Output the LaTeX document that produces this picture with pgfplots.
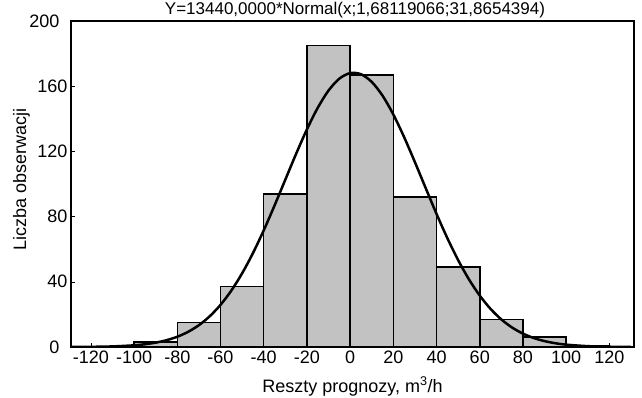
\documentclass[border=0pt]{standalone}
\usepackage{fontspec}
\setmainfont{Liberation Sans}
\usepackage{pgfplots}
\pgfplotsset{compat=1.18}
\definecolor{barfill}{gray}{0.76}
\begin{document}
\begin{tikzpicture}
\useasboundingbox (-71pt,-50pt) rectangle (571pt,347pt);
\begin{axis}[
  at={(0pt,0pt)}, anchor=south west,
  scale only axis, width=563pt, height=326pt,
  xmin=-129.2, xmax=131.4, ymin=0, ymax=200,
  xtick={-120,-100,...,120},
  ytick={40,80,120,160},
  extra y ticks={0,200},
  extra y tick style={yticklabel style={xshift=-8pt}},
  xtick pos=bottom, ytick pos=left,
  tick align=inside, major tick length=4pt,
  tick style={black, line width=0.6pt},
  axis line style={line width=1.9pt},
  /pgf/number format/assume math mode=true,
  tick label style={font=\fontsize{18}{20}\selectfont},
  clip=true,
]
\addplot[ybar interval, fill=barfill, draw=black, line width=1.5pt] coordinates {
  (-100,3) (-80,15) (-60,37) (-40,94) (-20,185) (0,167) (20,92) (40,49) (60,17) (80,6) (100,1) (120,1)
};
\addplot[black, line width=2.5pt, smooth] coordinates {
  (-130,0.033) (-120,0.115) (-110,0.362) (-100,1.035) (-95,1.686) (-90,2.68) (-85,4.16)
  (-80,6.30) (-75,9.30) (-70,13.40) (-65,18.84) (-60,25.84) (-55,34.59) (-50,45.17)
  (-45,57.55) (-40,71.53) (-35,86.76) (-30,102.65) (-25,118.52) (-20,133.50) (-15,146.73)
  (-10,157.34) (-5,164.61) (0,168.04) (5,167.36) (10,162.63) (15,154.20) (20,142.64)
  (25,128.74) (30,113.37) (35,97.41) (40,81.65) (45,66.79) (50,53.30) (55,41.50)
  (60,31.53) (65,23.37) (70,16.90) (75,11.92) (80,8.21) (85,5.51) (90,3.61) (95,2.31)
  (100,1.44) (110,0.52) (120,0.17) (130,0.05)
};
\end{axis}
\node[anchor=base, font=\fontsize{17}{20}\selectfont] at (284pt,332pt) {Y=13440,0000*Normal(x;1,68119066;31,8654394)};
\node[anchor=base, font=\fontsize{18}{20}\selectfont] at (281.5pt,-45pt) {Reszty prognozy, m\textsuperscript{3}/h};
\node[anchor=base, rotate=90, font=\fontsize{18}{20}\selectfont] at (-45pt,168pt) {Liczba obserwacji};
\end{tikzpicture}
\end{document}
